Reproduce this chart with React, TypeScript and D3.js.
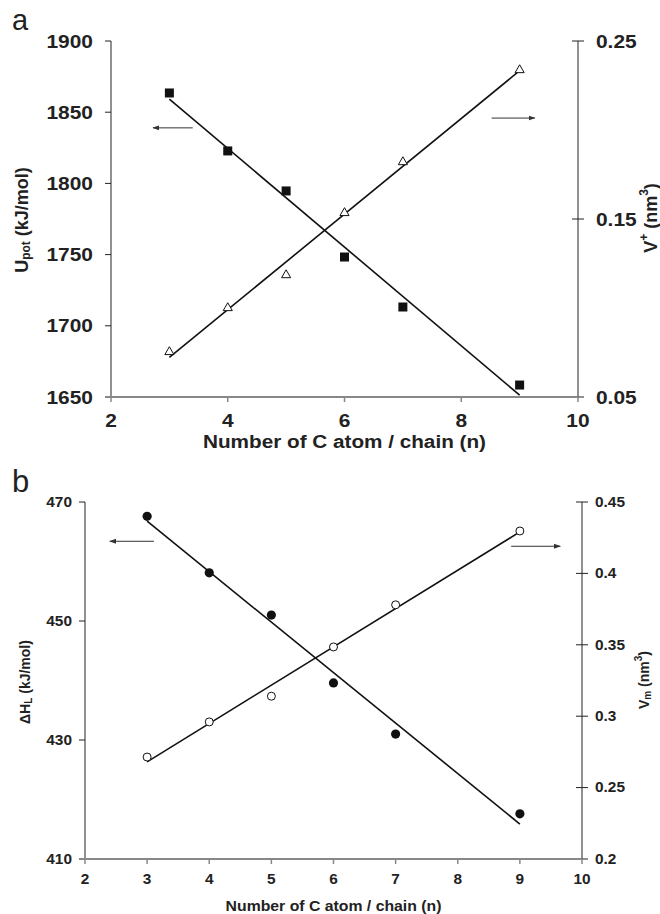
import React from 'react';
import * as d3 from 'd3';

// carbon atoms per chain
const carbonN = [3, 4, 5, 6, 7, 9];
// panel a
const uPot = [1863.5, 1822.8, 1794.7, 1748.3, 1713.2, 1658.4];
const vPlus = [0.0753, 0.1, 0.1185, 0.1534, 0.182, 0.2337];
// panel b
const dHL = [467.6, 458.1, 451.0, 439.6, 431.0, 417.6];
const vM = [0.2714, 0.296, 0.314, 0.3485, 0.378, 0.4297];

const xTicksA = [2, 4, 6, 8, 10];
const uTicks = [1650, 1700, 1750, 1800, 1850, 1900];
const vPlusTicks = [0.05, 0.15, 0.25];
const xTicksB = [2, 3, 4, 5, 6, 7, 8, 9, 10];
const dhTicks = [410, 430, 450, 470];
const vmTicks = [0.2, 0.25, 0.3, 0.35, 0.4, 0.45];

// arrows (data coords): [x0, x1, y]
const arrowA = { left: [3.4, 2.72, 1839], right: [8.52, 9.26, 0.2067] };
const arrowB = { left: [3.11, 2.4, 463.4], right: [8.86, 9.65, 0.419] };

const FONT = '"Liberation Sans", Arial, sans-serif';

function fit(xs: number[], ys: number[]) {
  const mx = d3.mean(xs)!;
  const my = d3.mean(ys)!;
  const sxy = d3.sum(xs, (x, i) => (x - mx) * (ys[i] - my));
  const sxx = d3.sum(xs, (x) => (x - mx) ** 2);
  const b = sxy / sxx;
  return (x: number) => my + b * (x - mx);
}

// text with a slight horizontal stretch, like the scanned figure
const T = ({ x, y, sx = 1, rot = 0, anchor = 'middle', size, bold = true, children }: any) => (
  <text
    transform={`translate(${x},${y}) rotate(${rot}) scale(${sx},1)`}
    textAnchor={anchor}
    dominantBaseline="central"
    fontSize={size}
    fontWeight={bold ? 'bold' : 'normal'}
    fill="#222"
  >
    {children}
  </text>
);

type PanelProps = {
  box: { left: number; right: number; top: number; bottom: number };
  xDomain: [number, number];
  xTicks: number[];
  yL: { domain: [number, number]; ticks: number[]; data: number[] };
  yR: { domain: [number, number]; ticks: number[]; data: number[] };
  fs: number;
  sx: number;
  titleFs: number;
  titleSx: number;
  axisFs: number;
  xLabelGap: number;
  titleY: number;
  arrows: { left: number[]; right: number[] };
  leftMarker: 'square' | 'circle';
  rightMarker: 'triangle' | 'circle';
  leftTitle: React.ReactNode;
  rightTitle: React.ReactNode;
  leftTitlePos: [number, number];
  rightTitlePos: [number, number];
  labelRGap: number;
  labelLGap: number;
};

const Panel = (p: PanelProps) => {
  const { box } = p;
  const x = d3.scaleLinear().domain(p.xDomain).range([box.left, box.right]);
  const yl = d3.scaleLinear().domain(p.yL.domain).range([box.bottom, box.top]);
  const yr = d3.scaleLinear().domain(p.yR.domain).range([box.bottom, box.top]);
  const fl = fit(carbonN, p.yL.data);
  const fr = fit(carbonN, p.yR.data);
  const x0 = d3.min(carbonN)!;
  const x1 = d3.max(carbonN)!;
  const line = d3.line<[number, number]>();
  const tri = d3.symbol(d3.symbolTriangle, 36)();

  return (
    <g>
      {/* fit lines */}
      <path d={line([[x(x0), yl(fl(x0))], [x(x1), yl(fl(x1))]])!} stroke="#111" strokeWidth={1.6} fill="none" />
      <path d={line([[x(x0), yr(fr(x0))], [x(x1), yr(fr(x1))]])!} stroke="#111" strokeWidth={1.6} fill="none" />

      {/* left axis */}
      <line x1={box.left} x2={box.left} y1={box.top} y2={box.bottom} stroke="#222" />
      {p.yL.ticks.map((t) => (
        <g key={'l' + t}>
          <line x1={box.left - 6} x2={box.left} y1={yl(t)} y2={yl(t)} stroke="#222" />
          <T x={box.left - p.labelLGap} y={yl(t)} anchor="end" size={p.fs} sx={p.sx}>{t}</T>
        </g>
      ))}
      {/* right axis */}
      <line x1={box.right} x2={box.right} y1={box.top} y2={box.bottom} stroke="#222" />
      {p.yR.ticks.map((t) => (
        <g key={'r' + t}>
          <line x1={box.right - 6} x2={box.right + 6} y1={yr(t)} y2={yr(t)} stroke="#222" />
          <T x={box.right + p.labelRGap} y={yr(t)} anchor="start" size={p.fs} sx={p.sx}>{t}</T>
        </g>
      ))}
      {/* bottom axis */}
      <line x1={box.left - 6} x2={box.right} y1={box.bottom} y2={box.bottom} stroke="#888" strokeWidth={2} />
      {p.xTicks.map((t) => (
        <g key={'x' + t}>
          <line x1={x(t)} x2={x(t)} y1={box.bottom} y2={box.bottom + 5} stroke="#888" strokeWidth={1.5} />
          <T x={x(t)} y={box.bottom + p.xLabelGap} size={p.fs} sx={p.sx}>{t}</T>
        </g>
      ))}
      <T x={(box.left + box.right) / 2} y={p.titleY} size={p.titleFs} sx={p.titleSx}>
        Number of C atom / chain (n)
      </T>

      {/* markers */}
      {carbonN.map((n, i) =>
        p.leftMarker === 'square' ? (
          <rect key={'ms' + n} x={x(n) - 4.5} y={yl(p.yL.data[i]) - 4.5} width={9} height={9} fill="#111" />
        ) : (
          <circle key={'ms' + n} cx={x(n)} cy={yl(p.yL.data[i])} r={4.6} fill="#111" />
        )
      )}
      {carbonN.map((n, i) =>
        p.rightMarker === 'triangle' ? (
          <path key={'mr' + n} d={tri!} transform={`translate(${x(n)},${yr(p.yR.data[i])})`} fill="white" stroke="#111" strokeWidth={1} />
        ) : (
          <circle key={'mr' + n} cx={x(n)} cy={yr(p.yR.data[i])} r={4} fill="white" stroke="#111" strokeWidth={1} />
        )
      )}

      {/* arrows */}
      <line x1={x(p.arrows.left[0])} x2={x(p.arrows.left[1])} y1={yl(p.arrows.left[2])} y2={yl(p.arrows.left[2])}
        stroke="#333" strokeWidth={1} markerEnd="url(#ah)" />
      <line x1={x(p.arrows.right[0])} x2={x(p.arrows.right[1])} y1={yr(p.arrows.right[2])} y2={yr(p.arrows.right[2])}
        stroke="#333" strokeWidth={1} markerEnd="url(#ah)" />

      {/* axis titles */}
      <T x={p.leftTitlePos[0]} y={p.leftTitlePos[1]} rot={-90} size={p.axisFs}>{p.leftTitle}</T>
      <T x={p.rightTitlePos[0]} y={p.rightTitlePos[1]} rot={-90} size={p.axisFs}>{p.rightTitle}</T>
    </g>
  );
};

export default function App() {
  return (
    <svg width={660} height={914} style={{ position: 'absolute', left: 0, top: 0, background: 'white' }}
      fontFamily={FONT}>
      <defs>
        <marker id="ah" viewBox="0 0 10 10" refX={9} refY={5} markerWidth={7} markerHeight={7} orient="auto">
          <path d="M0,1.5 L10,5 L0,8.5 Z" fill="#333" />
        </marker>
      </defs>
      <rect width={660} height={914} fill="white" />
      <text x={12} y={30} fontSize={29} fill="#222">a</text>
      <text x={12} y={492} fontSize={31} fill="#222">b</text>

      <Panel
        box={{ left: 111, right: 578, top: 41, bottom: 397 }}
        xDomain={[2, 10]}
        xTicks={xTicksA}
        yL={{ domain: [1650, 1900], ticks: uTicks, data: uPot }}
        yR={{ domain: [0.05, 0.25], ticks: vPlusTicks, data: vPlus }}
        fs={19}
        sx={1.1}
        titleFs={18.5}
        titleSx={1.12}
        axisFs={18}
        xLabelGap={23}
        titleY={441}
        labelLGap={18}
        labelRGap={18}
        arrows={arrowA}
        leftMarker="square"
        rightMarker="triangle"
        leftTitle={<>U<tspan fontSize={12} dy={4}>pot</tspan><tspan dy={-4}> (kJ/mol)</tspan></>}
        rightTitle={<>V<tspan fontSize={12} dy={-7}>+</tspan><tspan dy={7}> (nm</tspan><tspan fontSize={12} dy={-7}>3</tspan><tspan dy={7}>)</tspan></>}
        leftTitlePos={[22, 220]}
        rightTitlePos={[651, 218]}
      />
      <Panel
        box={{ left: 85, right: 582, top: 502, bottom: 859 }}
        xDomain={[2, 10]}
        xTicks={xTicksB}
        yL={{ domain: [410, 470], ticks: dhTicks, data: dHL }}
        yR={{ domain: [0.2, 0.45], ticks: vmTicks, data: vM }}
        fs={14}
        sx={1.1}
        titleFs={15.5}
        titleSx={1.02}
        axisFs={14}
        xLabelGap={20}
        titleY={906}
        labelLGap={13}
        labelRGap={13}
        arrows={arrowB}
        leftMarker="circle"
        rightMarker="circle"
        leftTitle={<>ΔH<tspan fontSize={10} dy={3}>L</tspan><tspan dy={-3}>  (kJ/mol)</tspan></>}
        rightTitle={<>V<tspan fontSize={10} dy={3}>m</tspan><tspan dy={-3}> (nm</tspan><tspan fontSize={10} dy={-6}>3</tspan><tspan dy={6}>)</tspan></>}
        leftTitlePos={[25, 682]}
        rightTitlePos={[644, 680]}
      />
    </svg>
  );
}
